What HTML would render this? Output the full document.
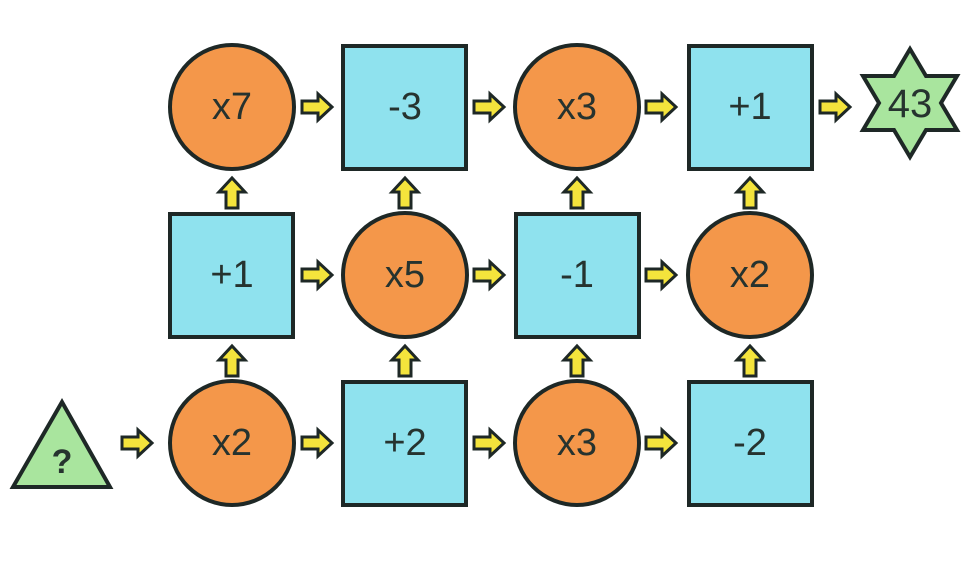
<!DOCTYPE html>
<html><head><meta charset="utf-8"><style>
html,body{margin:0;padding:0;background:#fff;}
svg{display:block;}
text{font-family:"Liberation Sans",sans-serif;font-size:38px;fill:#26332f;text-anchor:middle;dominant-baseline:central;}
</style></head><body>
<svg width="977" height="562" viewBox="0 0 977 562">
<defs>
<path id="ar" d="M-16,-6 H0 V-13 L14,0 L0,13 V6 H-16 Z" fill="#f4e43c" stroke="#1e2826" stroke-width="3" stroke-linejoin="miter"/>
</defs>
<g stroke="#1e2826" stroke-width="4">
<circle cx="232" cy="107" r="62" fill="#f4974a"/>
<rect x="343" y="46" width="123" height="123" fill="#8fe2ee"/>
<circle cx="577" cy="107" r="62" fill="#f4974a"/>
<rect x="689" y="46" width="123" height="123" fill="#8fe2ee"/>
<polygon points="910,49 926,76 957,76 941,103 957,130 926,130 910,157 894,130 863,130 879,103 863,76 894,76" fill="#a9e59e"/>
<rect x="170" y="214" width="123" height="123" fill="#8fe2ee"/>
<circle cx="405" cy="275" r="62" fill="#f4974a"/>
<rect x="516" y="214" width="123" height="123" fill="#8fe2ee"/>
<circle cx="750" cy="275" r="62" fill="#f4974a"/>
<polygon points="62,402 13,487 110,487" fill="#a9e59e"/>
<circle cx="232" cy="443" r="62" fill="#f4974a"/>
<rect x="343" y="382" width="123" height="123" fill="#8fe2ee"/>
<circle cx="577" cy="443" r="62" fill="#f4974a"/>
<rect x="689" y="382" width="123" height="123" fill="#8fe2ee"/>
</g>
<use href="#ar" transform="translate(318,107)"/>
<use href="#ar" transform="translate(490,107)"/>
<use href="#ar" transform="translate(662,107)"/>
<use href="#ar" transform="translate(836,107)"/>
<use href="#ar" transform="translate(318,275)"/>
<use href="#ar" transform="translate(490,275)"/>
<use href="#ar" transform="translate(662,275)"/>
<use href="#ar" transform="translate(138,443)"/>
<use href="#ar" transform="translate(318,443)"/>
<use href="#ar" transform="translate(490,443)"/>
<use href="#ar" transform="translate(662,443)"/>
<use href="#ar" transform="translate(232,192) rotate(-90)"/>
<use href="#ar" transform="translate(405,192) rotate(-90)"/>
<use href="#ar" transform="translate(577,192) rotate(-90)"/>
<use href="#ar" transform="translate(750,192) rotate(-90)"/>
<use href="#ar" transform="translate(232,360) rotate(-90)"/>
<use href="#ar" transform="translate(405,360) rotate(-90)"/>
<use href="#ar" transform="translate(577,360) rotate(-90)"/>
<use href="#ar" transform="translate(750,360) rotate(-90)"/>
<text x="232" y="107">x7</text>
<text x="405" y="107">-3</text>
<text x="577" y="107">x3</text>
<text x="750" y="107">+1</text>
<text x="910" y="104" style="font-size:40px">43</text>
<text x="232" y="275">+1</text>
<text x="405" y="275">x5</text>
<text x="577" y="275">-1</text>
<text x="750" y="275">x2</text>
<text x="62" y="462" style="font-size:34px;font-weight:bold">?</text>
<text x="232" y="443">x2</text>
<text x="405" y="443">+2</text>
<text x="577" y="443">x3</text>
<text x="750" y="443">-2</text>
</svg>
</body></html>
